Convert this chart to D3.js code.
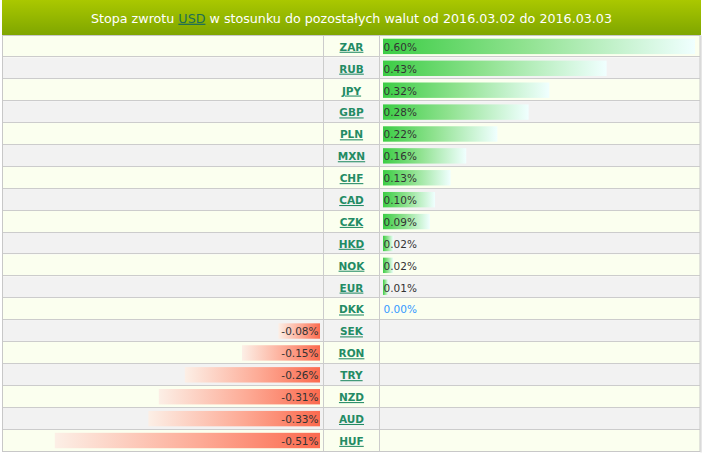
<!DOCTYPE html>
<html><head><meta charset="utf-8">
<script src="https://cdn.jsdelivr.net/npm/d3@7"></script>
<style>
html,body{margin:0;padding:0;background:#fff;}
svg{display:block;}
</style></head>
<body>
<script>
const currencies = ["ZAR","RUB","JPY","GBP","PLN","MXN","CHF","CAD","CZK","HKD","NOK","EUR","DKK","SEK","RON","TRY","NZD","AUD","HUF"];
const returns = [0.60,0.43,0.32,0.28,0.22,0.16,0.13,0.10,0.09,0.02,0.02,0.01,0.00,-0.08,-0.15,-0.26,-0.31,-0.33,-0.51];
const titleParts = ["Stopa zwrotu ","USD"," w stosunku do pozostałych walut od 2016.03.02 do 2016.03.03"];

const W = 706, H = 456;
const L = 2.5, R = 700, T = 35.5, B = 451.5;
const c1 = 323.5, c2 = 379.5;

const svg = d3.select("body").append("svg").attr("width", W).attr("height", H);
const defs = svg.append("defs");
const gp = defs.append("linearGradient").attr("id","gpos").attr("x1","0").attr("x2","1").attr("y1","0").attr("y2","0");
gp.append("stop").attr("offset","0").attr("stop-color","#3ccd45");
gp.append("stop").attr("offset","0.45").attr("stop-color","#8fe28f");
gp.append("stop").attr("offset","1").attr("stop-color","#f0ffff");
const gn = defs.append("linearGradient").attr("id","gneg").attr("x1","0").attr("x2","1").attr("y1","0").attr("y2","0");
gn.append("stop").attr("offset","0").attr("stop-color","#fcefe6");
gn.append("stop").attr("offset","0.55").attr("stop-color","#fdaa95");
gn.append("stop").attr("offset","1").attr("stop-color","#fb6a4e");
const gh = defs.append("linearGradient").attr("id","ghead").attr("x1","0").attr("x2","0").attr("y1","0").attr("y2","1");
gh.append("stop").attr("offset","0").attr("stop-color","#aac800");
gh.append("stop").attr("offset","1").attr("stop-color","#7fa600");

// header
svg.append("rect").attr("x",2).attr("y",0).attr("width",699).attr("height",35).attr("fill","url(#ghead)");
const title = svg.append("text").attr("x",(2+701)/2).attr("y",22.7).attr("text-anchor","middle")
  .attr("font-family","DejaVu Sans").attr("font-size",12.6).attr("fill","#ffffff")
  .attr("textLength",521).attr("lengthAdjust","spacingAndGlyphs");
title.selectAll("tspan").data(titleParts).join("tspan").text(d=>d)
  .attr("fill",(d,i)=>i===1?"#1e6e55":"#ffffff")
  .attr("text-decoration",(d,i)=>i===1?"underline":null);

const y = d3.scaleBand().domain(currencies).range([T, B]);
const xPos = d3.scaleLinear().domain([0, 0.6]).range([383, 695]);
const xNeg = d3.scaleLinear().domain([-0.6, 0]).range([8, 320]);

const rows = svg.append("g").selectAll("g").data(currencies).join("g");
rows.append("rect").attr("x",L).attr("y",d=>y(d)).attr("width",R-L).attr("height",y.bandwidth())
  .attr("fill",(d,i)=>i%2===0?"#fbffef":"#f2f2f2");

// grid lines
const grid = svg.append("g").attr("stroke","#cccccc").attr("stroke-width",1).attr("fill","none");
grid.selectAll("line.h").data(currencies.slice(1)).join("line")
  .attr("x1",L).attr("x2",R).attr("y1",d=>Math.round(y(d))-0.5).attr("y2",d=>Math.round(y(d))-0.5);
[c1,c2].forEach(cx=>grid.append("line").attr("x1",cx).attr("x2",cx).attr("y1",T).attr("y2",B));
svg.append("rect").attr("x",L).attr("y",T).attr("width",R-L).attr("height",B-T)
  .attr("fill","none").attr("stroke","#c8c8c8").attr("stroke-width",1);
svg.append("line").attr("x1",R+1).attr("x2",R+1).attr("y1",T).attr("y2",B+1).attr("stroke","#d0d0d0").attr("stroke-width",1);

const data = currencies.map((c,i)=>({c, v: returns[i]}));

// bars
svg.append("g").selectAll("rect").data(data.filter(d=>d.v>0)).join("rect")
  .attr("x",xPos(0)).attr("y",d=>y(d.c)+3.2).attr("height",15.4)
  .attr("width",d=>xPos(d.v)-xPos(0)).attr("fill","url(#gpos)");
svg.append("g").selectAll("rect").data(data.filter(d=>d.v<0)).join("rect")
  .attr("x",d=>xNeg(d.v)).attr("y",d=>y(d.c)+3.2).attr("height",15.4)
  .attr("width",d=>xNeg(0)-xNeg(d.v)).attr("fill","url(#gneg)");

// value labels
const fmt = v => v.toFixed(2) + "%";
svg.append("g").selectAll("text").data(data.filter(d=>d.v>=0)).join("text")
  .attr("x",383.5).attr("y",d=>y(d.c)+y.bandwidth()/2+4.3)
  .attr("font-family","DejaVu Sans").attr("font-size",10.5)
  .attr("fill",d=>d.v===0?"#3399ff":"#333333").text(d=>fmt(d.v));
svg.append("g").selectAll("text").data(data.filter(d=>d.v<0)).join("text")
  .attr("x",318.5).attr("y",d=>y(d.c)+y.bandwidth()/2+4.3).attr("text-anchor","end")
  .attr("font-family","DejaVu Sans").attr("font-size",10.5)
  .attr("fill","#333333").text(d=>fmt(d.v));

// currency labels
svg.append("g").selectAll("text").data(currencies).join("text")
  .attr("x",(c1+c2)/2).attr("y",d=>y(d)+y.bandwidth()/2+4.3).attr("text-anchor","middle")
  .attr("font-family","DejaVu Sans").attr("font-weight","bold").attr("font-size",10.5)
  .attr("fill","#238b64").attr("text-decoration","underline").text(d=>d);
</script>
</body></html>
